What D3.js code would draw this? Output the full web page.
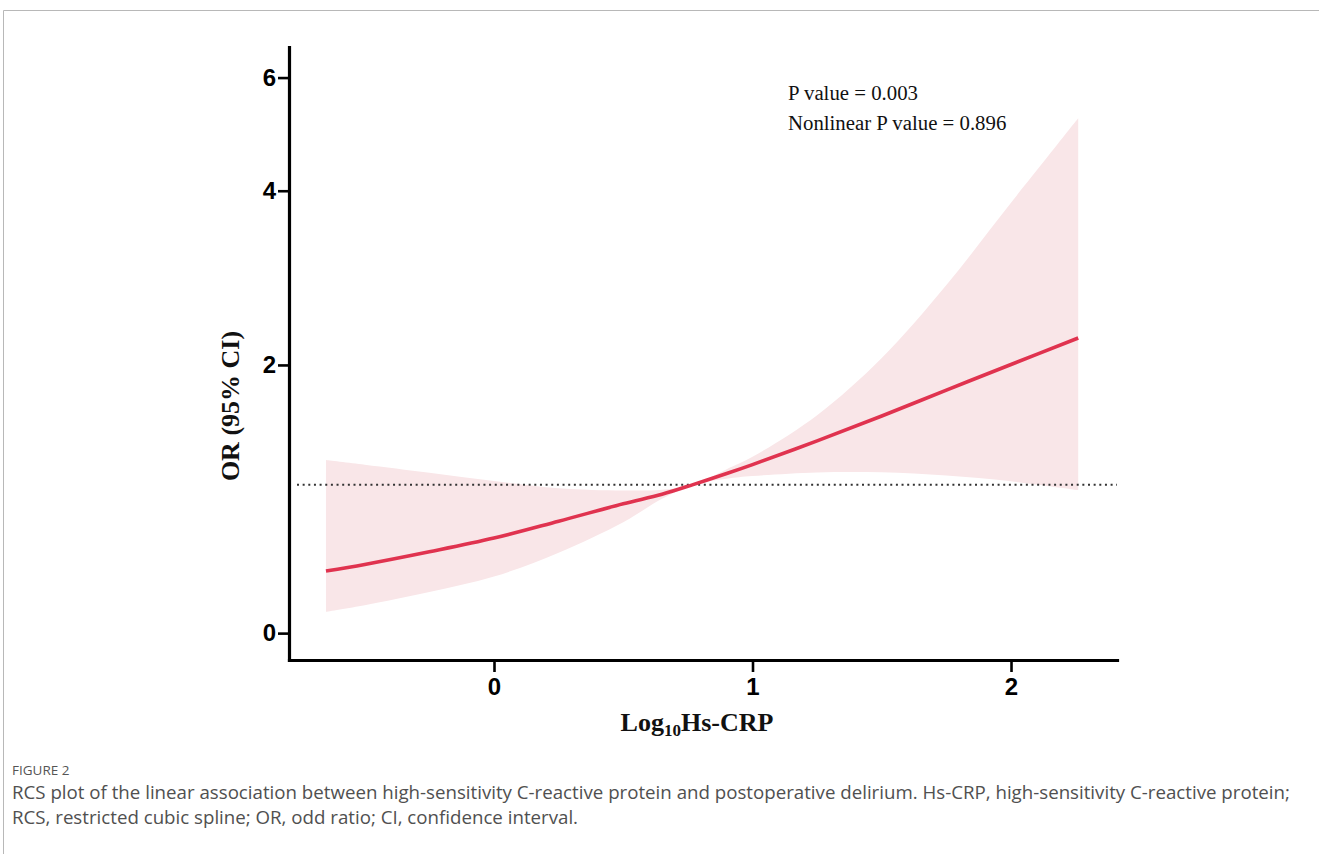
<!DOCTYPE html>
<html>
<head>
<meta charset="utf-8">
<script src="https://cdn.jsdelivr.net/npm/d3@7"></script>
<style>
    html, body { margin: 0; padding: 0; background: #fff; }
    svg { display: block; }
</style>
</head>
<body>
<div id="chart"></div>
<script>
// values
var xValues = [-0.65, -0.5, -0.25, 0, 0.25, 0.5, 0.65, 0.77, 0.9, 1.0, 1.25, 1.5, 1.75, 2.0, 2.26];
var orValues = [0.392, 0.436, 0.521, 0.615, 0.733, 0.858, 0.928, 1.0, 1.084, 1.153, 1.341, 1.547, 1.771, 2.004, 2.258];
var lowerValues = [0.131, 0.172, 0.256, 0.356, 0.515, 0.726, 0.895, 1.0, 1.045, 1.065, 1.093, 1.094, 1.069, 1.025, 0.959];
var upperValues = [1.188, 1.152, 1.090, 1.027, 0.973, 0.956, 0.962, 1.0, 1.118, 1.214, 1.554, 2.065, 2.813, 3.829, 5.179];

var xTicks = [0, 1, 2];
var yTicks = [0, 2, 4, 6];
var refLine = 1;

var pLabels = ["P value = 0.003", "Nonlinear P value = 0.896"];
var captionTitle = "FIGURE 2";
var captionLines = [
    "RCS plot of the linear association between high-sensitivity C-reactive protein and postoperative delirium. Hs-CRP, high-sensitivity C-reactive protein;",
    "RCS, restricted cubic spline; OR, odd ratio; CI, confidence interval."
];

var width = 1319;
var height = 854;

var svg = d3.select("#chart").append("svg")
    .attr("width", width)
    .attr("height", height);

// frame
svg.append("path")
    .attr("d", "M3.5,854 L3.5,10.5 L1319,10.5")
    .attr("fill", "none")
    .attr("stroke", "#b8b8b8")
    .attr("stroke-width", 1);

// the y axis of the original is compressed towards the top
var k = 0.2157;
var tf = function (v) { return 1 - Math.exp(-k * v); };

var x = d3.scaleLinear().domain([-0.793, 2.41]).range([289, 1117]);
var yScale = d3.scaleLinear().domain([tf(-0.16), tf(6.73)]).range([660, 47]);
var y = function (v) { return yScale(tf(v)); };

var data = xValues.map(function (d, i) {
    return { x: d, or: orValues[i], lo: lowerValues[i], hi: upperValues[i] };
});

// confidence band
var area = d3.area()
    .x(function (d) { return x(d.x); })
    .y0(function (d) { return y(d.lo); })
    .y1(function (d) { return y(d.hi); })
    .curve(d3.curveCatmullRom.alpha(0.5));

svg.append("path")
    .datum(data)
    .attr("d", area)
    .attr("fill", "#f9e6e8");

// reference line OR = 1
svg.append("line")
    .attr("x1", 297)
    .attr("x2", 1117)
    .attr("y1", y(refLine))
    .attr("y2", y(refLine))
    .attr("stroke", "#333")
    .attr("stroke-width", 2)
    .attr("stroke-dasharray", "2 3.65");

// OR curve
var line = d3.line()
    .x(function (d) { return x(d.x); })
    .y(function (d) { return y(d.or); })
    .curve(d3.curveCatmullRom.alpha(0.5));

svg.append("path")
    .datum(data)
    .attr("d", line)
    .attr("fill", "none")
    .attr("stroke", "#e0334f")
    .attr("stroke-width", 3.6);

// axes
var xAxis = svg.append("g")
    .attr("transform", "translate(0,660)")
    .call(d3.axisBottom(x).tickValues(xTicks).tickFormat(d3.format("d")).tickSize(12).tickSizeOuter(0).tickPadding(6));

var yAxis = svg.append("g")
    .attr("transform", "translate(289,0)")
    .call(d3.axisLeft(yScale)
        .tickValues(yTicks.map(tf))
        .tickFormat(function (d, i) { return yTicks[i]; })
        .tickSize(11).tickSizeOuter(0).tickPadding(2));

[xAxis, yAxis].forEach(function (g) {
    g.select(".domain")
        .attr("stroke", "#000")
        .attr("stroke-width", 3.2)
        .attr("stroke-linecap", "square");
    g.selectAll(".tick line")
        .attr("stroke", "#000")
        .attr("stroke-width", 2.6);
    g.selectAll(".tick text")
        .attr("fill", "#000")
        .style("font-family", "'Liberation Sans', Arial, sans-serif")
        .style("font-weight", "bold")
        .style("font-size", "24px");
});

// axis titles
var xTitle = svg.append("text")
    .attr("x", 697)
    .attr("y", 731)
    .attr("text-anchor", "middle")
    .style("font-family", "'Liberation Serif', 'Times New Roman', serif")
    .style("font-weight", "bold")
    .style("font-size", "26px")
    .attr("fill", "#111");
xTitle.append("tspan").text("Log");
xTitle.append("tspan").attr("dy", 5).style("font-size", "17px").text("10");
xTitle.append("tspan").attr("dy", -5).text("Hs-CRP");

svg.append("text")
    .attr("transform", "translate(239,406) rotate(-90)")
    .attr("text-anchor", "middle")
    .style("font-family", "'Liberation Serif', 'Times New Roman', serif")
    .style("font-weight", "bold")
    .style("font-size", "26px")
    .attr("fill", "#111")
    .text("OR (95% CI)");

// p values
svg.selectAll(".pLabel")
    .data(pLabels)
    .enter()
    .append("text")
    .attr("class", "pLabel")
    .attr("x", 788)
    .attr("y", function (d, i) { return 100 + i * 30; })
    .style("font-family", "'Liberation Serif', 'Times New Roman', serif")
    .style("font-size", "20.8px")
    .attr("fill", "#111")
    .text(function (d) { return d; });

// caption
svg.append("text")
    .attr("x", 12)
    .attr("y", 775)
    .style("font-family", "'Open Sans', sans-serif")
    .style("font-size", "13.5px")
    .attr("fill", "#555")
    .text(captionTitle);

svg.selectAll(".caption")
    .data(captionLines)
    .enter()
    .append("text")
    .attr("class", "caption")
    .attr("x", 12)
    .attr("y", function (d, i) { return 799 + i * 25; })
    .style("font-family", "'Open Sans', sans-serif")
    .style("font-size", "18.7px")
    .attr("fill", "#505050")
    .text(function (d) { return d; });
</script>
</body>
</html>
